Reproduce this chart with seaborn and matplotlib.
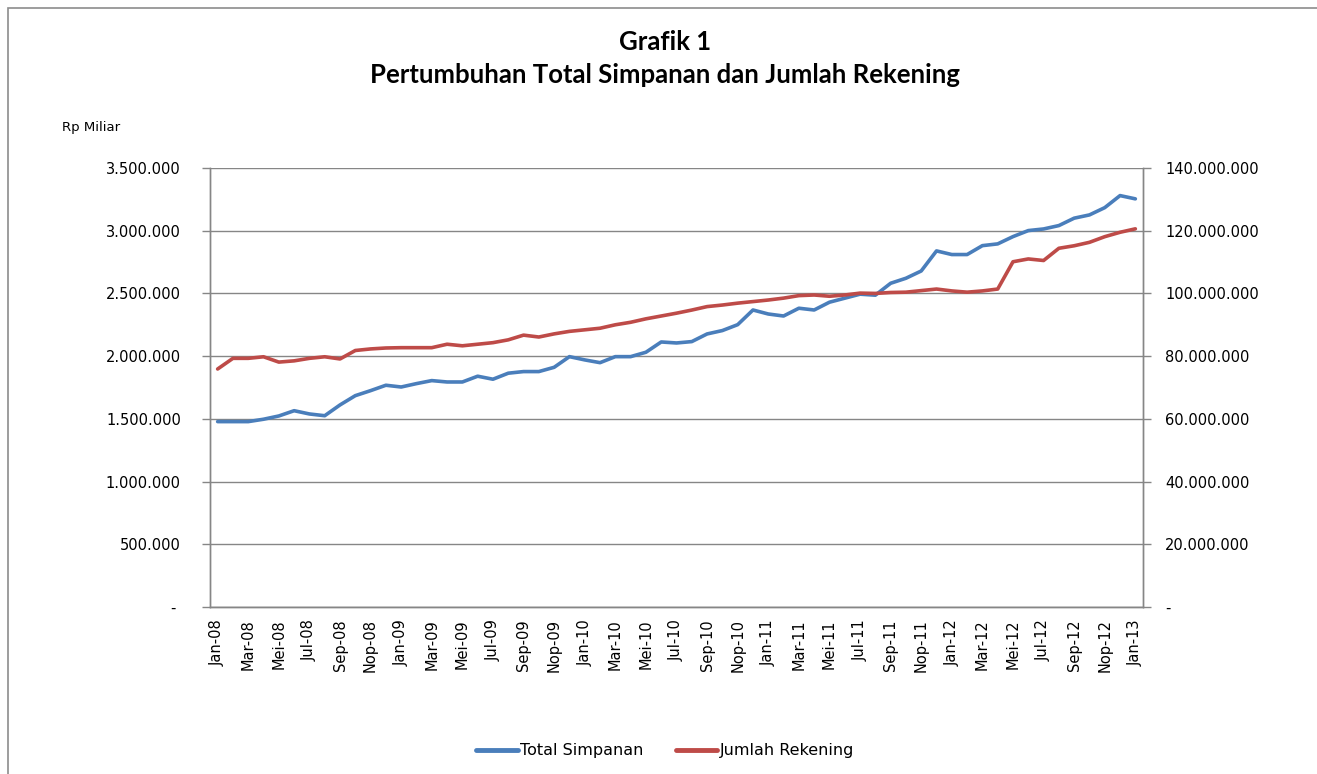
import numpy as np
import pandas as pd
import matplotlib
matplotlib.use("Agg")
import matplotlib.pyplot as plt
import matplotlib.ticker as mticker
from matplotlib.lines import Line2D
from matplotlib.patches import Rectangle
import seaborn as sns

# month names (Indonesian) and years
month_names = ['Jan', 'Feb', 'Mar', 'Apr', 'Mei', 'Jun',
               'Jul', 'Agu', 'Sep', 'Okt', 'Nop', 'Des']
years = ['08', '09', '10', '11', '12', '13']

# Total Simpanan (Rp Miliar), Jan-08 .. Jan-13
total_simpanan = [
    1478000, 1478000, 1478000, 1497000, 1523000, 1565000, 1539000, 1525000,
    1611000, 1685000, 1725000, 1768000,
    1754000, 1781000, 1805000, 1794000, 1794000, 1840000, 1816000, 1864000,
    1877000, 1877000, 1911000, 1996000,
    1970000, 1948000, 1996000, 1996000, 2031000, 2113000, 2105000, 2116000,
    2177000, 2204000, 2251000, 2368000,
    2336000, 2320000, 2382000, 2368000, 2430000, 2462000, 2494000, 2486000,
    2581000, 2621000, 2679000, 2839000,
    2810000, 2810000, 2881000, 2895000, 2953000, 3001000, 3014000, 3041000,
    3100000, 3126000, 3184000, 3280000,
    3254000,
]

# Jumlah Rekening, Jan-08 .. Jan-13
jumlah_rekening = [
    75.9e6, 79.3e6, 79.3e6, 79.8e6, 78.1e6, 78.5e6, 79.3e6, 79.8e6,
    79.1e6, 81.8e6, 82.3e6, 82.6e6,
    82.7e6, 82.7e6, 82.7e6, 83.8e6, 83.3e6, 83.8e6, 84.3e6, 85.2e6,
    86.7e6, 86.1e6, 87.1e6, 87.9e6,
    88.4e6, 88.9e6, 90.0e6, 90.8e6, 91.9e6, 92.8e6, 93.7e6, 94.7e6,
    95.8e6, 96.3e6, 96.9e6, 97.4e6,
    97.9e6, 98.5e6, 99.3e6, 99.5e6, 99.1e6, 99.5e6, 100.1e6, 100.0e6,
    100.3e6, 100.4e6, 100.9e6, 101.4e6,
    100.8e6, 100.4e6, 100.8e6, 101.4e6, 110.1e6, 111.0e6, 110.5e6, 114.4e6,
    115.2e6, 116.3e6, 118.1e6, 119.5e6,
    120.6e6,
]

labels = [f"{m}-{y}" for y in years for m in month_names][:len(total_simpanan)]

df = pd.DataFrame({
    'idx': np.arange(len(labels)),
    'bulan': labels,
    'Total Simpanan': total_simpanan,
    'Jumlah Rekening': jumlah_rekening,
})

blue = '#4A7EBB'
red = '#BE4B48'
grid_col = '#868686'

sns.set_style('white')
plt.rcParams['font.family'] = ['DejaVu Sans']
plt.rcParams['text.color'] = 'black'
plt.rcParams['xtick.color'] = 'black'
plt.rcParams['ytick.color'] = 'black'

fig = plt.figure(figsize=(13.17, 7.74), dpi=100)
ax = fig.add_axes([210 / 1317, 1 - 607 / 774, (1143 - 210) / 1317, (607 - 168) / 774])
ax2 = ax.twinx()

sns.lineplot(data=df, x='idx', y='Total Simpanan', ax=ax, color=blue,
             linewidth=2.6, legend=False)
sns.lineplot(data=df, x='idx', y='Jumlah Rekening', ax=ax2, color=red,
             linewidth=2.6, legend=False)

n = len(labels)
ax.set_xlim(-0.5, n - 0.5)
ax.set_ylim(0, 3500000)
ax2.set_ylim(0, 140000000)
ax.yaxis.set_major_locator(mticker.MultipleLocator(500000))
ax2.yaxis.set_major_locator(mticker.MultipleLocator(20000000))


def fmt_dot(v, pos):
    if v == 0:
        return '- '
    return f"{int(round(v)):,}".replace(',', '.')


ax.yaxis.set_major_formatter(mticker.FuncFormatter(fmt_dot))
ax2.yaxis.set_major_formatter(mticker.FuncFormatter(
    lambda v, p: '-' if v == 0 else f"{int(round(v)):,}".replace(',', '.')))

# category labels every second month, tick marks at category borders
ax.set_xticks(np.arange(0, n, 2))
ax.set_xticklabels(labels[::2], rotation=90, fontsize=10.5)
ax.set_xticks(np.arange(-0.5, n, 2), minor=True)
ax.tick_params(axis='x', which='major', length=0, pad=9)
ax.tick_params(axis='x', which='minor', length=5, color=grid_col, width=1)
ax.tick_params(axis='y', length=6, color=grid_col, labelcolor='black', width=1,
               labelsize=10.5, pad=15)
ax2.tick_params(axis='y', length=6, color=grid_col, labelcolor='black', width=1,
                labelsize=10.5, pad=10)

ax.grid(axis='y', color=grid_col, linewidth=1)
ax.set_axisbelow(True)
ax.set_xlabel('')
ax.set_ylabel('')
ax2.set_ylabel('')

for a in (ax, ax2):
    a.spines['top'].set_visible(False)
    for s in ('left', 'right', 'bottom'):
        a.spines[s].set_color(grid_col)
        a.spines[s].set_linewidth(1)

fig.text(0.505, 1 - 42 / 774, 'Grafik 1', ha='center', va='center',
         fontsize=18.5, fontweight='bold', family=['Lato', 'DejaVu Sans'])
fig.text(0.505, 1 - 75 / 774, 'Pertumbuhan Total Simpanan dan Jumlah Rekening',
         ha='center', va='center', fontsize=18.5, fontweight='bold',
         family=['Lato', 'DejaVu Sans'])
fig.text(62 / 1317, 1 - 128 / 774, 'Rp Miliar', ha='left', va='center', fontsize=9.5)

handles = [Line2D([], [], color=blue, linewidth=3.5),
           Line2D([], [], color=red, linewidth=3.5)]
fig.legend(handles, ['Total Simpanan', 'Jumlah Rekening'], loc='center',
           bbox_to_anchor=(0.505, 1 - 751 / 774), ncol=2, frameon=False,
           fontsize=11.5, handlelength=2.6, handletextpad=0.15, columnspacing=2.0)

fig.patches.append(Rectangle((8 / 1317, -0.02), 1.1, 1 - 8 / 774 + 0.02,
                             transform=fig.transFigure, fill=False,
                             edgecolor='#8C8C8C', linewidth=1.2))

fig.savefig('out.png', dpi=100)
